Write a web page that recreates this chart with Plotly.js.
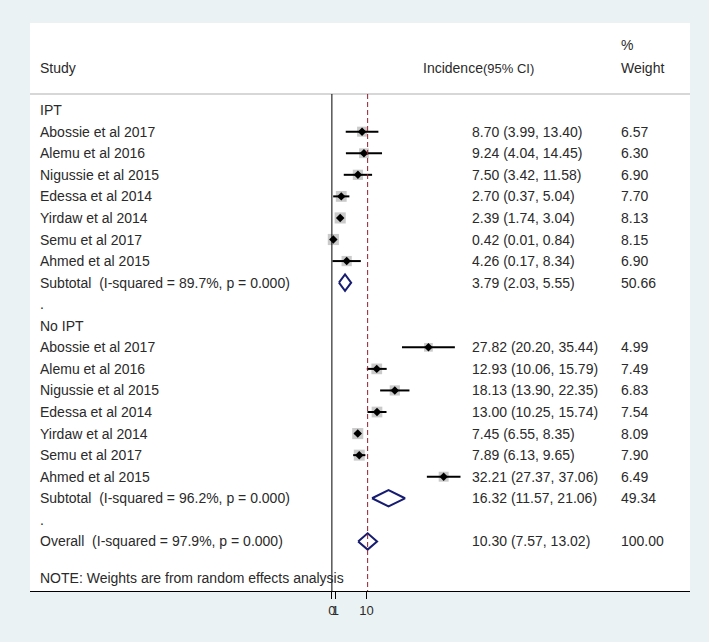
<!DOCTYPE html>
<html>
<head>
<meta charset="utf-8">
<script src="https://cdn.plot.ly/plotly-3.0.1.min.js"></script>
<style>html,body{margin:0;padding:0;background:rgb(234,242,243);}</style>
</head>
<body>
<div id="chart" style="width:709px;height:642px;"></div>
<script>
// ---- data ----
const groupNames = ["IPT", "No IPT"];
const studies = ["Abossie et al 2017", "Alemu et al 2016", "Nigussie et al 2015", "Edessa et al 2014", "Yirdaw et al 2014", "Semu et al 2017", "Ahmed et al 2015"];
const iptEst = [8.70, 9.24, 7.50, 2.70, 2.39, 0.42, 4.26];
const iptLo  = [3.99, 4.04, 3.42, 0.37, 1.74, 0.01, 0.17];
const iptHi  = [13.40, 14.45, 11.58, 5.04, 3.04, 0.84, 8.34];
const iptW   = [6.57, 6.30, 6.90, 7.70, 8.13, 8.15, 6.90];
const noEst = [27.82, 12.93, 18.13, 13.00, 7.45, 7.89, 32.21];
const noLo  = [20.20, 10.06, 13.90, 10.25, 6.55, 6.13, 27.37];
const noHi  = [35.44, 15.79, 22.35, 15.74, 8.35, 9.65, 37.06];
const noW   = [4.99, 7.49, 6.83, 7.54, 8.09, 7.90, 6.49];
const subLabels = ["Subtotal  (I-squared = 89.7%, p = 0.000)", "Subtotal  (I-squared = 96.2%, p = 0.000)", "Overall  (I-squared = 97.9%, p = 0.000)"];
const subEst = [3.79, 16.32, 10.30];
const subLo  = [2.03, 11.57, 7.57];
const subHi  = [5.55, 21.06, 13.02];
const subW   = [50.66, 49.34, 100.00];
const tickVals = [0, 1, 10];
const tickText = ["0", "1", "10"];
const noteText = "NOTE: Weights are from random effects analysis";

// ---- build rows ----
const FONT = "Liberation Sans, Arial, sans-serif";
const TXT = "#2a2a2a";
const FS = 14;
const groups = [
  {est: iptEst, lo: iptLo, hi: iptHi, w: iptW},
  {est: noEst, lo: noLo, hi: noHi, w: noW}
];
const ann = [];
function addText(xp, y, text, size) {
  ann.push({xref: "paper", yref: "y", x: xp, y: y, text: text, showarrow: false,
            xanchor: "left", yanchor: "middle", font: {family: FONT, size: size || FS, color: TXT}});
}
const colLabel = 0.0125, colCI = 0.666, colW = 0.892;
// headers
addText(colLabel, -1.95, "Study");
addText(0.5925, -1.95, "Incidence<span style='font-size:13px'>(95% CI)</span>");
addText(colW, -3.02, "%");
addText(colW, -1.95, "Weight");

const ciX = [], ciY = [], sqX = [], sqY = [], sqS = [], ptX = [], ptY = [];
const dX = [], dY = [];
let row = 0;
function diamond(i, r) {
  const h = 0.38;
  dX.push(subLo[i], subEst[i], subHi[i], subEst[i], subLo[i], null);
  dY.push(r, r - h, r, r + h, r, null);
  addText(colLabel, r, subLabels[i]);
  addText(colCI, r, subEst[i].toFixed(2) + " (" + subLo[i].toFixed(2) + ", " + subHi[i].toFixed(2) + ")");
  addText(colW, r, subW[i].toFixed(2));
}
groups.forEach((g, gi) => {
  addText(colLabel, row, groupNames[gi]);
  row++;
  studies.forEach((s, i) => {
    ciX.push(g.lo[i], g.hi[i], null); ciY.push(row, row, null);
    sqX.push(g.est[i]); sqY.push(row); sqS.push(3.9 * Math.sqrt(g.w[i]));
    ptX.push(g.est[i]); ptY.push(row);
    addText(colLabel, row, s);
    addText(colCI, row, g.est[i].toFixed(2) + " (" + g.lo[i].toFixed(2) + ", " + g.hi[i].toFixed(2) + ")");
    addText(colW, row, g.w[i].toFixed(2));
    row++;
  });
  diamond(gi, row);
  row++;
  addText(colLabel, row, ".");
  row++;
});
diamond(2, row);
addText(colLabel, 21.68, noteText);

const yTop = -4.04, yBot = 22.3, headerY = -0.747;

const traces = [
  {type: "scatter", mode: "markers", x: sqX, y: sqY, hoverinfo: "skip",
   marker: {symbol: "square", size: sqS, color: "rgb(180,180,180)", line: {width: 0}}},
  {type: "scatter", mode: "lines", x: ciX, y: ciY, hoverinfo: "skip",
   line: {color: "#000", width: 2}},
  {type: "scatter", mode: "markers", x: ptX, y: ptY, hoverinfo: "skip",
   marker: {symbol: "diamond", size: 6.5, color: "#000"}},
  {type: "scatter", mode: "lines", x: dX, y: dY, hoverinfo: "skip",
   line: {color: "rgb(22,28,112)", width: 2}}
];

const layout = {
  width: 709, height: 642,
  margin: {l: 30, r: 19, t: 23, b: 51},
  paper_bgcolor: "rgb(234,242,243)",
  plot_bgcolor: "#ffffff",
  showlegend: false,
  font: {family: FONT, size: FS, color: TXT},
  xaxis: {range: [-87.0, 103.2], showgrid: false, zeroline: false,
          showline: true, linecolor: "#000", linewidth: 1,
          ticks: "outside", ticklen: 7, tickcolor: "#000", tickwidth: 1,
          tickvals: tickVals, ticktext: tickText, tickangle: 0,
          tickfont: {family: FONT, size: 13, color: TXT}, fixedrange: true},
  yaxis: {range: [yBot, yTop], visible: false, fixedrange: true},
  shapes: [
    {type: "line", xref: "paper", yref: "y", x0: 0, x1: 1, y0: headerY, y1: headerY,
     line: {color: "rgb(175,175,175)", width: 1}},
    {type: "line", xref: "x", yref: "y", x0: 0, x1: 0, y0: headerY, y1: yBot,
     line: {color: "#000", width: 1}},
    {type: "line", xref: "x", yref: "y", x0: subEst[2], x1: subEst[2], y0: headerY, y1: yBot,
     line: {color: "rgb(150,30,40)", width: 1, dash: "5px,3px"}}
  ],
  annotations: ann
};

Plotly.newPlot("chart", traces, layout, {displayModeBar: false, staticPlot: true});
</script>
</body>
</html>
